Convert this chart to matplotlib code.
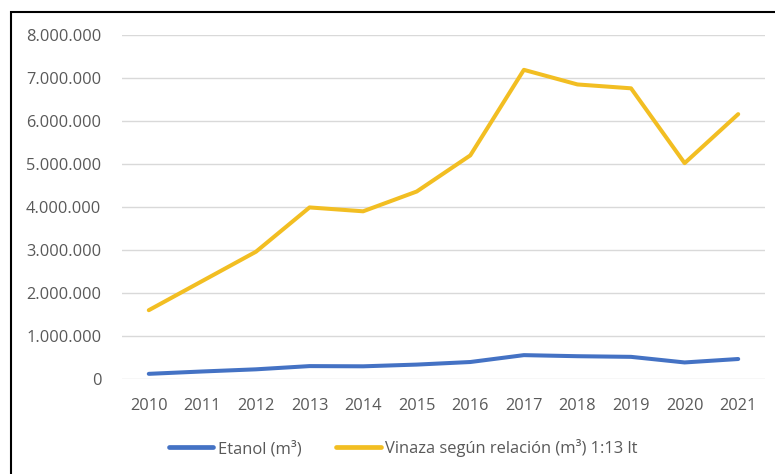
import matplotlib
matplotlib.use("Agg")
import matplotlib.pyplot as plt
from matplotlib.patches import Rectangle
from matplotlib.ticker import FuncFormatter

years = [2010, 2011, 2012, 2013, 2014, 2015, 2016, 2017, 2018, 2019, 2020, 2021]
etanol = [120000, 175000, 225000, 300000, 295000, 335000, 395000, 555000, 530000, 515000, 385000, 465000]
vinaza = [1600000, 2280000, 2960000, 3990000, 3900000, 4360000, 5200000, 7190000, 6850000, 6760000, 5020000, 6160000]
y_ticks = [0, 1000000, 2000000, 3000000, 4000000, 5000000, 6000000, 7000000, 8000000]

blue = "#4472C4"
gold = "#F2BE22"
grey_text = "#595959"

plt.rcParams["font.family"] = ["Open Sans", "DejaVu Sans"]

W, H = 775, 474
fig = plt.figure(figsize=(W / 100, H / 100), dpi=100)
fig.patch.set_facecolor("white")

ax = fig.add_axes([122 / W, (H - 379) / H, (765 - 122) / W, (379 - 35) / H])
ax.plot(years, etanol, color=blue, lw=2.9, solid_capstyle="round", label="Etanol (m³)")
ax.plot(years, vinaza, color=gold, lw=2.9, solid_capstyle="round",
        label="Vinaza según relación (m³) 1:13 lt")

ax.set_xlim(2009.5, 2021.5)
ax.set_ylim(0, 8000000)
ax.set_xticks(years)
ax.set_xticklabels([str(y) for y in years])
ax.set_yticks(y_ticks)
ax.yaxis.set_major_formatter(FuncFormatter(lambda v, p: f"{int(v):,}".replace(",", ".")))
ax.grid(axis="y", color="#D9D9D9", lw=1)
ax.set_axisbelow(True)
for s in ax.spines.values():
    s.set_visible(False)
ax.tick_params(axis="both", length=0, labelsize=11.8, colors=grey_text)
ax.tick_params(axis="y", pad=15)
ax.tick_params(axis="x", pad=14)

leg = fig.legend(loc="center", bbox_to_anchor=(403 / W, (H - 448) / H), ncol=2, frameon=False,
                 fontsize=11.9, handlelength=2.7, handletextpad=0.25, columnspacing=2.1,
                 labelcolor=grey_text)
for line in leg.get_lines():
    line.set_linewidth(3.4)

# outer frame (left and top edges visible)
fig.patches.append(Rectangle((11 / W, -0.1), 1.2, (H - 12) / H + 0.1, transform=fig.transFigure,
                             fill=False, edgecolor="black", lw=1.5))

fig.savefig("out.png", dpi=100, facecolor="white")
